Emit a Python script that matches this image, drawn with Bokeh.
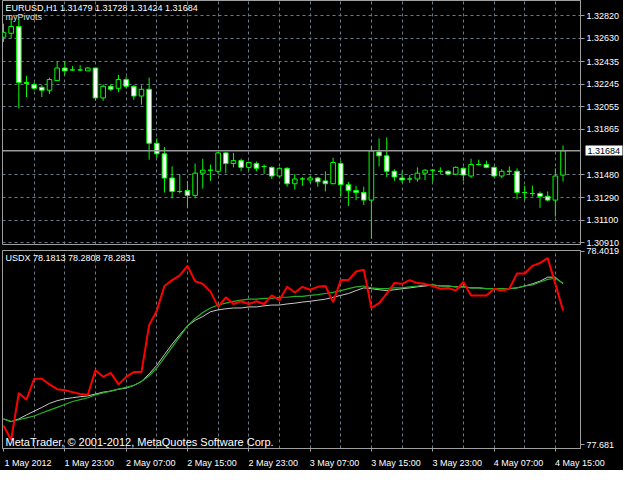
from bokeh.plotting import figure
from bokeh.layouts import column
from bokeh.models import (FixedTicker, Span, Label, ColumnDataSource, Range1d,
                          PrintfTickFormatter, LinearAxis)
from bokeh.embed import file_html
from bokeh.resources import INLINE

# ---------------- data ----------------
open_ = [1.32641, 1.32674, 1.32731, 1.32259, 1.32243, 1.32219, 1.32194, 1.32275, 1.32381, 1.32365,
         1.32365, 1.32357, 1.32381, 1.32129, 1.32227, 1.32210, 1.32284, 1.32227, 1.32145, 1.32202,
         1.31747, 1.31658, 1.31454, 1.31341, 1.31349, 1.31308, 1.31495, 1.31520, 1.31511, 1.31666,
         1.31576, 1.31601, 1.31544, 1.31576, 1.31552, 1.31544, 1.31471, 1.31536, 1.31406, 1.31446,
         1.31438, 1.31454, 1.31430, 1.31406, 1.31576, 1.31398, 1.31349, 1.31332, 1.31268, 1.31674,
         1.31641, 1.31511, 1.31454, 1.31446, 1.31446, 1.31495, 1.31520, 1.31511, 1.31511, 1.31487,
         1.31536, 1.31471, 1.31568, 1.31568, 1.31544, 1.31471, 1.31511, 1.31511, 1.31332, 1.31324,
         1.31324, 1.31300, 1.31268, 1.31479]
high = [1.32755, 1.32804, 1.32787, 1.32316, 1.32259, 1.32235, 1.32300, 1.32438, 1.32438, 1.32397,
        1.32405, 1.32389, 1.32381, 1.32243, 1.32243, 1.32324, 1.32308, 1.32235, 1.32235, 1.32300,
        1.31788, 1.31715, 1.31552, 1.31487, 1.31430, 1.31576, 1.31617, 1.31568, 1.31674, 1.31674,
        1.31666, 1.31617, 1.31593, 1.31593, 1.31568, 1.31552, 1.31544, 1.31544, 1.31487, 1.31463,
        1.31471, 1.31463, 1.31511, 1.31625, 1.31601, 1.31422, 1.31389, 1.31381, 1.31723, 1.31788,
        1.31796, 1.31528, 1.31511, 1.31479, 1.31544, 1.31528, 1.31528, 1.31544, 1.31520, 1.31552,
        1.31544, 1.31617, 1.31609, 1.31601, 1.31552, 1.31528, 1.31552, 1.31536, 1.31389, 1.31389,
        1.31341, 1.31341, 1.31536, 1.31728]
low = [1.32601, 1.32633, 1.32040, 1.32137, 1.32194, 1.32137, 1.32162, 1.32275, 1.32324, 1.32357,
       1.32357, 1.32357, 1.32105, 1.32105, 1.32186, 1.32178, 1.32210, 1.32113, 1.32072, 1.31609,
       1.31625, 1.31332, 1.31284, 1.31324, 1.31203, 1.31284, 1.31365, 1.31430, 1.31487, 1.31495,
       1.31544, 1.31511, 1.31520, 1.31511, 1.31487, 1.31446, 1.31463, 1.31381, 1.31357, 1.31389,
       1.31414, 1.31381, 1.31341, 1.31406, 1.31300, 1.31219, 1.31268, 1.31227, 1.30942, 1.31552,
       1.31463, 1.31430, 1.31414, 1.31414, 1.31422, 1.31438, 1.31422, 1.31487, 1.31479, 1.31479,
       1.31430, 1.31454, 1.31560, 1.31536, 1.31463, 1.31454, 1.31479, 1.31276, 1.31268, 1.31300,
       1.31203, 1.31259, 1.31129, 1.31424]
close = [1.32682, 1.32731, 1.32259, 1.32251, 1.32210, 1.32194, 1.32284, 1.32381, 1.32357, 1.32365,
         1.32365, 1.32381, 1.32129, 1.32227, 1.32202, 1.32284, 1.32227, 1.32145, 1.32202, 1.31747,
         1.31658, 1.31454, 1.31341, 1.31341, 1.31308, 1.31495, 1.31520, 1.31520, 1.31666, 1.31576,
         1.31601, 1.31544, 1.31585, 1.31536, 1.31552, 1.31471, 1.31536, 1.31406, 1.31446, 1.31446,
         1.31454, 1.31422, 1.31406, 1.31585, 1.31398, 1.31349, 1.31332, 1.31268, 1.31682, 1.31641,
         1.31511, 1.31463, 1.31438, 1.31446, 1.31495, 1.31520, 1.31520, 1.31511, 1.31487, 1.31544,
         1.31479, 1.31568, 1.31568, 1.31544, 1.31471, 1.31511, 1.31511, 1.31332, 1.31332, 1.31324,
         1.31300, 1.31268, 1.31471, 1.31684]

usdx = [77.752, 77.699, 77.874, 77.849, 77.927, 77.927, 77.906, 77.888, 77.884, 77.877,
        77.870, 77.867, 77.959, 77.934, 77.949, 77.906, 77.934, 77.952, 77.952, 78.127,
        78.181, 78.273, 78.295, 78.313, 78.348, 78.291, 78.281, 78.252, 78.195, 78.231,
        78.206, 78.216, 78.206, 78.216, 78.206, 78.238, 78.220, 78.270, 78.249, 78.270,
        78.259, 78.270, 78.273, 78.213, 78.295, 78.295, 78.327, 78.334, 78.191, 78.209,
        78.245, 78.284, 78.281, 78.295, 78.284, 78.281, 78.273, 78.263, 78.266, 78.256,
        78.288, 78.238, 78.238, 78.238, 78.263, 78.256, 78.263, 78.320, 78.320, 78.348,
        78.359, 78.377, 78.281, 78.1813]
ma_white = [77.777, 77.767, 77.777, 77.792, 77.806, 77.820, 77.835, 77.845, 77.852, 77.856,
            77.860, 77.863, 77.870, 77.877, 77.881, 77.888, 77.892, 77.902, 77.917, 77.945,
            77.977, 78.017, 78.056, 78.091, 78.124, 78.145, 78.159, 78.177, 78.184, 78.188,
            78.191, 78.191, 78.195, 78.195, 78.199, 78.202, 78.202, 78.206, 78.209, 78.213,
            78.216, 78.220, 78.224, 78.231, 78.238, 78.245, 78.256, 78.266, 78.263, 78.259,
            78.256, 78.259, 78.263, 78.266, 78.270, 78.273, 78.277, 78.273, 78.273, 78.270,
            78.270, 78.266, 78.266, 78.263, 78.263, 78.263, 78.263, 78.266, 78.273, 78.281,
            78.291, 78.306, 78.306, 78.2808]
ma_green = [77.777, 77.767, 77.774, 77.781, 77.788, 77.799, 77.810, 77.820, 77.831, 77.842,
            77.849, 77.856, 77.867, 77.874, 77.881, 77.888, 77.895, 77.902, 77.917, 77.938,
            77.967, 78.006, 78.045, 78.084, 78.124, 78.152, 78.174, 78.191, 78.202, 78.209,
            78.216, 78.220, 78.224, 78.224, 78.227, 78.227, 78.231, 78.231, 78.234, 78.234,
            78.238, 78.241, 78.245, 78.249, 78.256, 78.263, 78.270, 78.273, 78.266, 78.263,
            78.263, 78.266, 78.266, 78.270, 78.273, 78.277, 78.277, 78.273, 78.273, 78.270,
            78.270, 78.266, 78.266, 78.263, 78.263, 78.263, 78.263, 78.266, 78.273, 78.277,
            78.288, 78.298, 78.302, 78.2831]

price_ticks = [1.32820, 1.32630, 1.32435, 1.32245, 1.32055, 1.31865,
               1.31480, 1.31290, 1.31100, 1.30910]
bid_price = 1.31684
usdx_ticks = [77.681, 78.4019]
time_labels = ["1 May 2012", "1 May 23:00", "2 May 07:00", "2 May 15:00", "2 May 23:00",
               "3 May 07:00", "3 May 15:00", "3 May 23:00", "4 May 07:00", "4 May 15:00"]
label_every = 8
grid_every = 4

title_main = "EURUSD,H1  1.31479 1.31728 1.31424 1.31684"
title_ind = "myPivots"
title_sub = "USDX 78.1813 78.2808 78.2831"
copyright_txt = "MetaTrader, \u00a9 2001-2012, MetaQuotes Software Corp."

# ---------------- styling ----------------
FONT = "Liberation Sans"
FS = "9px"
GRID = "#6a7888"
FRAME = "#a0a0a0"
LIME = "#00ff00"
LABEL_SHIFT = 3.2   # time labels start at their tick (MetaTrader style)

n = len(open_)
xs = list(range(n))
tops = [max(o, c) for o, c in zip(open_, close)]
bots = [min(o, c) for o, c in zip(open_, close)]
fills = ["white" if c < o else "black" for o, c in zip(open_, close)]
src = ColumnDataSource(dict(x=xs, open=open_, high=high, low=low, close=close,
                            top=tops, bottom=bots, fill=fills))

xr = Range1d(-0.13, n + 1.28)
yr1 = Range1d(1.30894, 1.32950)
yr2 = Range1d(77.6667, 78.4055)

FW = 578


def style(p):
    p.background_fill_color = "black"
    p.border_fill_color = "black"
    p.outline_line_color = FRAME
    p.outline_line_width = 1
    p.xgrid.ticker = FixedTicker(ticks=list(range(grid_every, n, grid_every)))
    p.xgrid.grid_line_color = GRID
    p.xgrid.grid_line_dash = "3 3"
    p.yaxis.axis_line_color = FRAME
    p.yaxis.major_tick_line_color = FRAME
    p.yaxis.major_tick_out = 4
    p.yaxis.major_tick_in = 0
    p.yaxis.minor_tick_line_color = None
    p.yaxis.major_label_text_color = "white"
    p.yaxis.major_label_text_font = FONT
    p.yaxis.major_label_text_font_size = FS
    p.yaxis.major_label_standoff = 2


# ---------------- top panel ----------------
p1 = figure(frame_width=FW, frame_height=244, x_range=xr, y_range=yr1,
            output_backend="svg", toolbar_location=None, y_axis_location="right",
            x_axis_location=None, min_border_left=2, min_border_top=0,
            min_border_bottom=3, min_border_right=0)
style(p1)
p1.yaxis.ticker = FixedTicker(ticks=price_ticks)
p1.yaxis.formatter = PrintfTickFormatter(format="%.5f")
p1.ygrid.ticker = FixedTicker(ticks=price_ticks)
p1.ygrid.grid_line_color = GRID
p1.ygrid.grid_line_dash = "3 3"

# current bid price: line across the chart and a highlighted label on the price scale
p1.add_layout(Span(location=bid_price, dimension="width", line_color="#9a9a9a", line_width=1.5))
bid_axis = LinearAxis(ticker=FixedTicker(ticks=[bid_price]),
                      formatter=PrintfTickFormatter(format="%.5f"),
                      axis_line_color=None, minor_tick_line_color=None,
                      major_tick_line_color="white", major_tick_line_width=10,
                      major_tick_in=37, major_tick_out=0,
                      major_label_standoff=-35,
                      major_label_text_color="black", major_label_text_font=FONT,
                      major_label_text_font_size=FS)
p1.add_layout(bid_axis, "right")

p1.segment(x0="x", y0="low", x1="x", y1="high", source=src, line_color=LIME, line_width=1)
p1.vbar(x="x", width=0.6, top="top", bottom="bottom", source=src,
        fill_color="fill", line_color=LIME, line_width=1)

p1.add_layout(Label(x=xr.start, y=yr1.end, x_offset=3, y_offset=-2, text=title_main,
                    text_baseline="top", text_color="white", text_font=FONT, text_font_size=FS))
p1.add_layout(Label(x=xr.start, y=yr1.end, x_offset=3, y_offset=-11, text=title_ind,
                    text_baseline="top", text_color="#e0e0e0", text_font=FONT, text_font_size=FS))

# ---------------- bottom panel ----------------
p2 = figure(frame_width=FW, frame_height=198, x_range=xr, y_range=yr2,
            output_backend="svg", toolbar_location=None, y_axis_location="right",
            min_border_left=2, min_border_top=3, min_border_bottom=0, min_border_right=0)
style(p2)
p2.ygrid.visible = False
p2.yaxis.ticker = FixedTicker(ticks=usdx_ticks)
p2.yaxis.major_label_overrides = {t: str(t) for t in usdx_ticks}

lab_idx = list(range(0, n, label_every))
# tick marks
p2.xaxis.ticker = FixedTicker(ticks=lab_idx)
p2.xaxis.major_label_overrides = {i: "" for i in lab_idx}
p2.xaxis.axis_line_color = FRAME
p2.xaxis.major_tick_line_color = FRAME
p2.xaxis.major_tick_out = 3
p2.xaxis.major_tick_in = 0
p2.xaxis.minor_tick_line_color = None
p2.xaxis.major_label_standoff = 0
p2.xaxis.major_label_text_font_size = "1px"
# time labels (left-aligned at their tick like MetaTrader)
lab_pos = [i + LABEL_SHIFT for i in lab_idx]
ax_lab = LinearAxis(ticker=FixedTicker(ticks=lab_pos),
                    major_label_overrides={pos: t for pos, t in zip(lab_pos, time_labels)},
                    axis_line_color=None, major_tick_line_color=None,
                    minor_tick_line_color=None, major_label_standoff=0,
                    major_label_text_color="white", major_label_text_font=FONT,
                    major_label_text_font_size=FS)
p2.add_layout(ax_lab, "below")

p2.line(xs, ma_white, line_color="#c8c8c8", line_width=1)
p2.line(xs, ma_green, line_color="#22b322", line_width=1.2)
p2.line(xs, usdx, line_color="#ff0000", line_width=2)

p2.add_layout(Label(x=xr.start, y=yr2.end, x_offset=3, y_offset=-2, text=title_sub,
                    text_baseline="top", text_color="white", text_font=FONT, text_font_size=FS))
p2.add_layout(Label(x=xr.start, y=yr2.start, x_offset=3, y_offset=1, text=copyright_txt,
                    text_baseline="bottom", text_color="white", text_font=FONT,
                    text_font_size="11px"))

layout = column(p1, p2, spacing=0, background="black")
open("out.html", "w").write(file_html(layout, INLINE))
